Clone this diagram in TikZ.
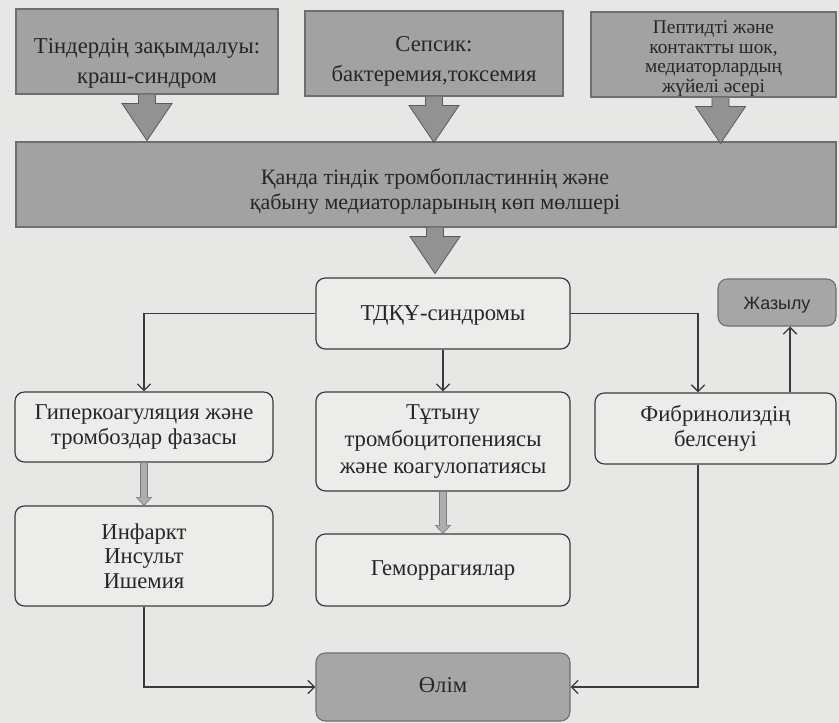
\documentclass[tikz,border=0pt]{standalone}
\usepackage{fontspec}
\setmainfont{Liberation Serif}
\newfontfamily\sansf{Liberation Sans}
\usetikzlibrary{arrows.meta,calc}
\definecolor{bgcol}{HTML}{E7E7E5}
\definecolor{boxfill}{HTML}{A2A2A2}
\definecolor{boxline}{HTML}{6E6E6E}
\definecolor{arrfillc}{HTML}{929292}
\definecolor{arrlinec}{HTML}{5A5A5A}
\definecolor{whitefill}{HTML}{ECECEA}
\definecolor{lineco}{HTML}{3A3A3A}
\definecolor{darkfill}{HTML}{A6A6A6}
\definecolor{txt}{HTML}{262626}
\definecolor{thinfill}{HTML}{AEAEAE}
\definecolor{thinline}{HTML}{7A7A7A}
\tikzset{
  mainfont/.style={font=\fontsize{17}{19}\selectfont},
  greybox/.style={draw=boxline, fill=boxfill, line width=0.8pt, inner sep=0pt, align=center, text=txt, mainfont},
  roundbox/.style={draw=lineco, fill=whitefill, line width=0.9pt, rounded corners=7pt, inner sep=0pt, align=center, text=txt, mainfont},
  darkbox/.style={draw=boxline, fill=darkfill, line width=0.8pt, rounded corners=7pt, inner sep=0pt, align=center, text=txt, mainfont},
  textonly/.style={inner sep=0pt, align=center, text=txt},
  sz/.style 2 args={minimum width=#1, minimum height=#2},
  lower/.style={execute at begin node={\rule{0pt}{#1}}},
  raise/.style={execute at begin node={\rule[-#1]{0pt}{#1}}},
  conn/.style={draw=lineco, line width=1pt, -{Straight Barb[length=5pt,width=10pt,line width=1pt]}},
  arrfill/.style={fill=arrfillc},
  arrline/.style={draw=arrlinec, line width=0.6pt, line join=miter},
  thinarr/.style={fill=thinfill, draw=thinline, line width=0.5pt},
  blockarr/.pic={
    \fill[arrfill] (-8.5,0) -- (-8.5,9) -- (-25,9) -- (0,46) -- (25,9) -- (8.5,9) -- (8.5,0) -- cycle;
    \draw[arrline] (-8.5,0) -- (-8.5,9) -- (-25,9) -- (0,46) -- (25,9) -- (8.5,9) -- (8.5,0);
  }
}
\begin{document}
\begin{tikzpicture}[x=0.75pt,y=-0.75pt]
\useasboundingbox (0,0) rectangle (839,723);
\fill[bgcol] (0,0) rectangle (839,723);

% top boxes
\node[greybox, sz={196.5pt}{63.75pt}] (a) at (147,51.5) {};
\node[textonly, font=\fontsize{17}{22.5}\selectfont] (atext) at (147,63.5) {Тіндердің зақымдалуы:\\краш-синдром};
\node[greybox, sz={193.5pt}{63.75pt}] (b) at (434,53.5) {};
\node[textonly, font=\fontsize{17}{22.5}\selectfont] (btext) at (434,61.5) {Сепсик:\\бактеремия,токсемия};
\node[greybox, sz={183.75pt}{63.75pt}] (c) at (713.5,54.5) {};
\node[textonly, font=\fontsize{14.5}{14.6}\selectfont] (ctext) at (713.5,58.5) {Пептидті және\\контактты шок,\\медиаторлардың\\жүйелі әсері};

% big box
\node[greybox, sz={615pt}{63.75pt}] (big) at (426,184.5) {};
\node[textonly, font=\fontsize{16.5}{18.75}\selectfont] (bigtext) at (435,192) {Қанда тіндік тромбопластиннің және\\қабыну медиаторларының көп мөлшері};

% block arrows
\pic at (a.south) {blockarr};
\pic at (b.south) {blockarr};
\pic at ([xshift=5.25pt]c.south) {blockarr};
\pic at ([xshift=6.75pt]big.south) {blockarr};

% middle
\node[roundbox, sz={190.5pt}{53.25pt}, lower=14.2pt] (tdku) at (443,313.5) {ТДҚҰ-синдромы};
\node[darkbox, sz={88.5pt}{35.25pt}, font=\sansf\fontsize{13.4}{15}\selectfont, lower=12.6pt] (jaz) at (777,302.5) {Жазылу};

\node[roundbox, sz={193.5pt}{52.5pt}, lower=18pt] (hyp) at (144,427) {Гиперкоагуляция және\\тромбоздар фазасы};
\node[roundbox, sz={190.5pt}{74.25pt}, lower=18pt, font=\fontsize{17}{20.5}\selectfont] (tut) at (443,441.5) {Тұтыну\\тромбоцитопениясы\\және коагулопатиясы};
\node[roundbox, sz={180.75pt}{53.25pt}, lower=18pt] (fib) at (715.5,428.5) {Фибринолиздің\\белсенуі};

\node[roundbox, sz={193.5pt}{75pt}, lower=16pt, font=\fontsize{17}{18.4}\selectfont] (inf) at (144,556) {Инфаркт\\Инсульт\\Ишемия};
\node[roundbox, sz={190.5pt}{54pt}] (gem) at (443,570) {Геморрагиялар};
\node[darkbox, sz={190.5pt}{51pt}, raise=3pt] (olim) at (443,687) {Өлім};

% connectors
\draw[conn] (tdku.west) -| (hyp.north);
\draw[conn] (tdku.south) -- (tut.north);
\draw[conn] (tdku.east) -| ([xshift=-13.1pt]fib.north);
\draw[conn] ([xshift=55.9pt]fib.north) -- ([xshift=55.9pt]fib.north |- jaz.south);
\draw[conn] (inf.south) |- (olim.west);
\draw[conn] ([xshift=-13.1pt]fib.south) |- (olim.east);

% thin grey arrows
\filldraw[thinarr] ([xshift=-2.6pt]hyp.south) -- ([xshift=-2.6pt,yshift=6pt]inf.north) -- ([xshift=-5.6pt,yshift=6pt]inf.north) -- (inf.north) -- ([xshift=5.6pt,yshift=6pt]inf.north) -- ([xshift=2.6pt,yshift=6pt]inf.north) -- ([xshift=2.6pt]hyp.south) -- cycle;
\filldraw[thinarr] ([xshift=-2.6pt]tut.south) -- ([xshift=-2.6pt,yshift=6pt]gem.north) -- ([xshift=-5.6pt,yshift=6pt]gem.north) -- (gem.north) -- ([xshift=5.6pt,yshift=6pt]gem.north) -- ([xshift=2.6pt,yshift=6pt]gem.north) -- ([xshift=2.6pt]tut.south) -- cycle;
\end{tikzpicture}
\end{document}
